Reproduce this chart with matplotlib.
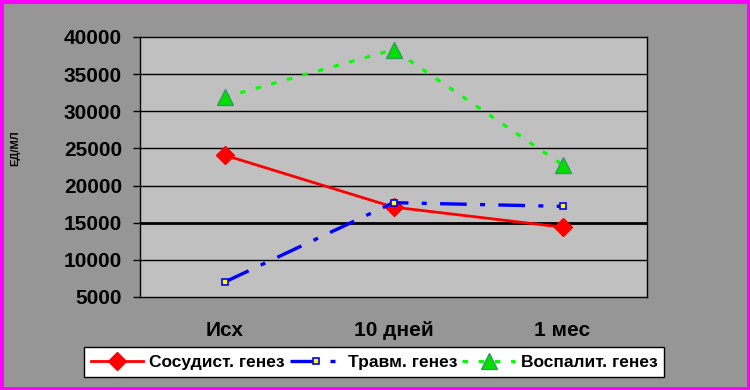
import matplotlib
matplotlib.use("Agg")
import matplotlib.pyplot as plt
from matplotlib.patches import Rectangle

cats = ["Исх", "10 дней", "1 мес"]
sosud = [24100, 17100, 14400]
travm = [7000, 17700, 17200]
vospal = [31900, 38300, 22800]
yticks = [5000, 10000, 15000, 20000, 25000, 30000, 35000, 40000]

plt.rcParams["font.family"] = ["Liberation Sans", "DejaVu Sans"]
plt.rcParams["font.weight"] = "bold"

fig = plt.figure(figsize=(7.5, 3.9), dpi=100, facecolor="#969696")
ax = fig.add_axes([140 / 750, 93 / 390, 507 / 750, 260 / 390])
ax.set_facecolor("#C0C0C0")

x = range(len(cats))
for y in yticks[1:-1]:
    ax.axhline(y, color="black", lw=2.0 if y == 15000 else 1.0, zorder=1)

ax.plot(x, sosud, color="#FF0000", lw=2.0, marker="D", ms=9, mfc="#FF0000", mec="#FF0000",
        label="Сосудист. генез", zorder=3)
ax.plot(x, travm, color="#0000FF", lw=2.4, dashes=(8, 4, 1.5, 4), marker="s", ms=5,
        mfc="#FFFF00", mec="#0000FF", mew=1.2, label="Травм. генез", zorder=4)
ax.plot(x, vospal, color="#00FF00", lw=2.2, dashes=(1.8, 3.5), marker="^", ms=12,
        mfc="#00E000", mec="#339966", mew=1.0, label="Воспалит. генез", zorder=3)

ax.set_xlim(-0.5, 2.5)
ax.set_ylim(5000, 40000)
ax.set_yticks(yticks)
ax.set_xticks(list(x))
ax.set_xticklabels(cats)
ax.tick_params(axis="y", length=5, width=1, pad=8, labelsize=15, direction="out")
ax.tick_params(axis="x", length=0, pad=17, labelsize=15)
for s in ax.spines.values():
    s.set_color("black")
    s.set_linewidth(1.0)

fig.text(20 / 750, 1 - 148 / 390, "ЕД/МЛ", rotation=90, ha="right", va="center", fontsize=8)

leg = fig.legend(loc="center", bbox_to_anchor=(374 / 750, 1 - 362 / 390), ncol=3, fontsize=12.5,
                 frameon=True, fancybox=False, edgecolor="black", facecolor="white",
                 handlelength=3.0, handletextpad=0.35, columnspacing=0.3, borderpad=0.4)
leg.get_frame().set_linewidth(1.0)
leg.get_frame().set_alpha(1)

fig.patches.append(Rectangle((0, 0), 1, 1, transform=fig.transFigure, fill=False,
                             edgecolor="#FF00FF", lw=5, zorder=10))

fig.savefig("out.png", dpi=100, facecolor=fig.get_facecolor())
